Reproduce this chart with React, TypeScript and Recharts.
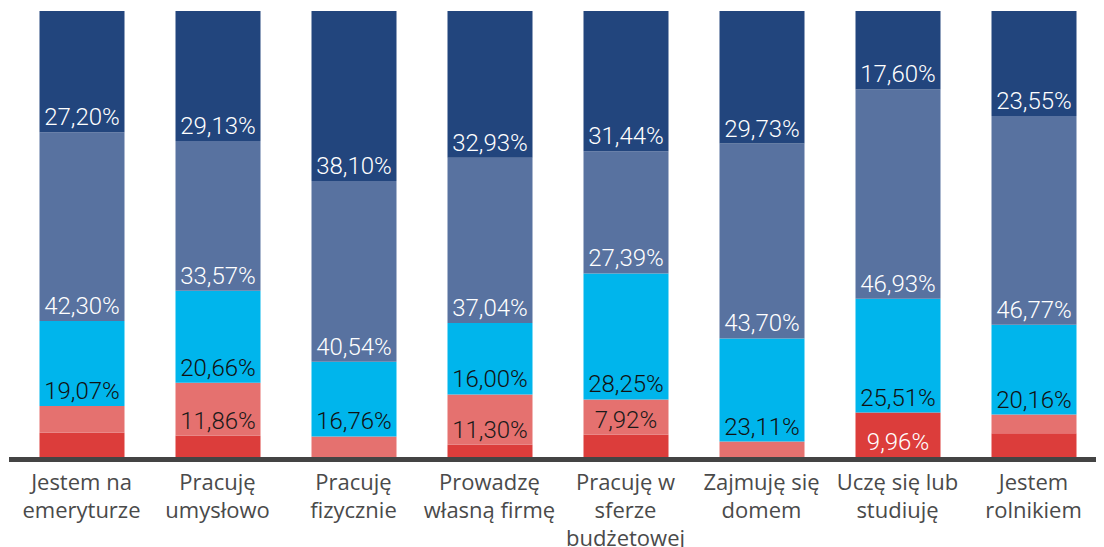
import React from "react";
import { BarChart, Bar, XAxis, YAxis, LabelList } from "recharts";

const categories = [
  "Jestem na emeryturze",
  "Pracuję umysłowo",
  "Pracuję fizycznie",
  "Prowadzę własną firmę",
  "Pracuję w sferze budżetowej",
  "Zajmuję się domem",
  "Uczę się lub studiuję",
  "Jestem rolnikiem",
];

const tickLines = [
  ["Jestem na", "emeryturze"],
  ["Pracuję", "umysłowo"],
  ["Pracuję", "fizycznie"],
  ["Prowadzę", "własną firmę"],
  ["Pracuję w", "sferze", "budżetowej"],
  ["Zajmuję się", "domem"],
  ["Uczę się lub", "studiuję"],
  ["Jestem", "rolnikiem"],
];

// bottom to top
const redValues = [5.43, 4.78, 0, 2.73, 5.0, 0, 9.96, 5.32];
const lightRedValues = [6.0, 11.86, 4.6, 11.3, 7.92, 3.46, 0, 4.2];
const cyanValues = [19.07, 20.66, 16.76, 16.0, 28.25, 23.11, 25.51, 20.16];
const slateValues = [42.3, 33.57, 40.54, 37.04, 27.39, 43.7, 46.93, 46.77];
const navyValues = [27.2, 29.13, 38.1, 32.93, 31.44, 29.73, 17.6, 23.55];

const data = categories.map((c, i) => ({
  name: c,
  idx: i,
  red: redValues[i],
  lightRed: lightRedValues[i],
  cyan: cyanValues[i],
  slate: slateValues[i],
  navy: navyValues[i],
}));

const fmt = (v: number) => v.toFixed(2).replace(".", ",") + "%";

const makeLabel = (color: string) => (props: any) => {
  const { x, y, width, height, value } = props;
  if (value == null || value < 7) return null;
  return (
    <text
      x={Number(x) + Number(width) / 2}
      y={Number(y) + Number(height) - 7}
      textAnchor="middle"
      fill={color}
      fontFamily="Roboto"
      fontWeight={300}
      fontSize={24}
    >
      {fmt(value)}
    </text>
  );
};

const Tick = (props: any) => {
  const { x, y, index } = props;
  const lines = tickLines[index] || [];
  return (
    <g>
      {lines.map((l: string, k: number) => (
        <text
          key={k}
          x={x}
          y={y + 33 + k * 28}
          textAnchor="middle"
          fill="#4a4a4a"
          fontFamily="'Open Sans'"
          fontWeight={400}
          fontSize={22}
        >
          {l}
        </text>
      ))}
    </g>
  );
};

export default function App() {
  return (
    <div style={{ width: 1096, height: 539 }}>
      <BarChart
        width={1096}
        height={539}
        data={data}
        margin={{ top: 3, right: 0, bottom: 0, left: 1 }}
        barSize={85}
      >
        <XAxis
          dataKey="name"
          height={90}
          tickSize={0}
          tickMargin={0}
          tickLine={false}
          interval={0}
          padding={{ left: 4.5, right: 2.5 }}
          axisLine={{ stroke: "#444444", strokeWidth: 5, transform: "translate(0 2.5)" }}
          tick={<Tick />}
        />
        <YAxis hide domain={[0, 100]} type="number" />
        <Bar dataKey="red" stackId="a" fill="#DC3D3B" isAnimationActive={false}>
          <LabelList dataKey="red" content={makeLabel("#ffffff")} />
        </Bar>
        <Bar dataKey="lightRed" stackId="a" fill="#E5716F" isAnimationActive={false}>
          <LabelList dataKey="lightRed" content={makeLabel("#1a1a1a")} />
        </Bar>
        <Bar dataKey="cyan" stackId="a" fill="#00B5EC" isAnimationActive={false}>
          <LabelList dataKey="cyan" content={makeLabel("#111111")} />
        </Bar>
        <Bar dataKey="slate" stackId="a" fill="#5872A0" isAnimationActive={false}>
          <LabelList dataKey="slate" content={makeLabel("#ffffff")} />
        </Bar>
        <Bar dataKey="navy" stackId="a" fill="#22457D" isAnimationActive={false}>
          <LabelList dataKey="navy" content={makeLabel("#ffffff")} />
        </Bar>
      </BarChart>
    </div>
  );
}
